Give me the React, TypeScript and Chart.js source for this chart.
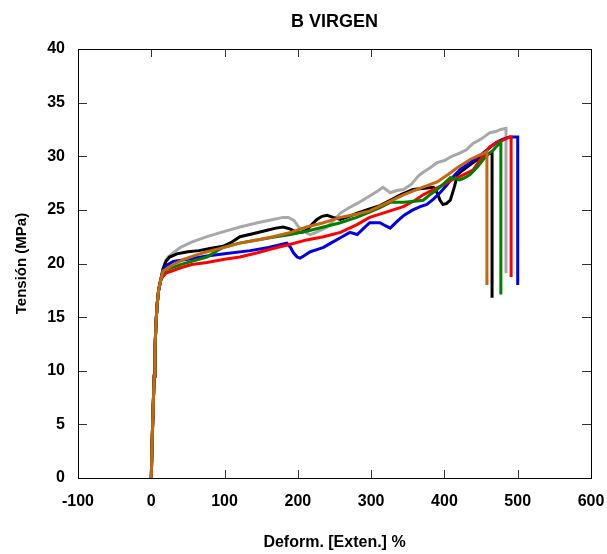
import React, { useEffect, useRef } from "react";
import { Chart, registerables } from "chart.js";

Chart.register(...registerables);

const chartTitle = "B VIRGEN";
const xAxisTitle = "Deform. [Exten.] %";
const yAxisTitle = "Tensión (MPa)";

const xTicks = [-100, 0, 100, 200, 300, 400, 500, 600];
const yTicks = [0, 5, 10, 15, 20, 25, 30, 35, 40];

// shared elastic start (all specimens overlap here)
const elasticStart: [number, number][] = [
  [0, 0], [1, 3], [2.5, 6.5], [4, 9.5], [5, 12], [6.5, 14.5], [8, 16.2], [10, 17.5], [13, 18.5],
];

const blackCurve: [number, number][] = [
  [16, 19.5], [20, 20.2], [25, 20.6], [35, 20.9], [50, 21.1], [65, 21.2], [80, 21.4], [98, 21.6],
  [110, 22.0], [121, 22.5], [140, 22.8], [158, 23.1], [170, 23.3], [180, 23.4], [190, 23.2],
  [198, 22.9], [205, 22.9], [212, 23.1], [220, 23.7], [226, 24.1], [233, 24.4], [240, 24.5],
  [248, 24.3], [258, 24.1], [270, 24.4], [281, 24.7], [298, 25.1], [312, 25.4], [326, 25.9],
  [340, 26.4], [357, 26.9], [370, 27.0], [385, 27.1], [390, 26.6], [394, 25.9], [398, 25.5],
  [403, 25.6], [408, 25.9], [413, 27.0], [418, 28.3], [425, 28.7], [435, 29.2], [449, 29.9],
  [458, 30.2], [465, 30.3], [465, 16.8],
];

const grayCurve: [number, number][] = [
  [16, 19.5], [20, 20.3], [23, 20.6], [30, 21.0], [40, 21.5], [55, 22.0], [76, 22.5], [100, 23.0],
  [121, 23.4], [145, 23.8], [166, 24.1], [180, 24.3], [187, 24.3], [195, 24.0], [201, 23.4],
  [207, 23.1], [213, 22.8], [217, 22.7], [225, 22.9], [240, 23.4], [250, 24.1], [258, 24.7],
  [270, 25.2], [281, 25.6], [298, 26.3], [310, 26.8], [316, 27.1], [322, 26.8], [326, 26.6],
  [335, 26.8], [344, 26.9], [355, 27.4], [365, 28.2], [371, 28.5], [380, 28.9], [390, 29.4],
  [400, 29.6], [410, 30.0], [421, 30.3], [430, 30.6], [439, 31.2], [450, 31.6], [462, 32.2],
  [470, 32.3], [477, 32.5], [484, 32.6], [484, 19.1],
];

const blueCurve: [number, number][] = [
  [16, 19.3], [20, 19.8], [30, 20.2], [50, 20.4], [76, 20.7], [100, 20.9], [135, 21.2], [160, 21.5],
  [185, 21.9], [190, 21.5], [194, 21.0], [199, 20.6], [203, 20.5], [208, 20.7], [217, 21.1],
  [226, 21.3], [235, 21.5], [245, 21.9], [258, 22.4], [271, 22.9], [281, 22.7], [290, 23.3],
  [298, 23.8], [312, 23.8], [320, 23.5], [326, 23.3], [335, 23.9], [345, 24.5], [357, 25.0],
  [367, 25.3], [376, 25.5], [385, 26.0], [394, 26.6], [403, 27.3], [412, 28.1], [422, 28.8],
  [435, 29.4], [445, 29.9], [453, 30.3], [462, 30.8], [471, 31.3], [480, 31.6], [489, 31.8],
  [500, 31.8], [500, 18.0],
];

const redCurve: [number, number][] = [
  [16, 18.8], [20, 19.1], [28, 19.3], [40, 19.6], [55, 19.9], [76, 20.1], [100, 20.4], [121, 20.6],
  [145, 21.0], [166, 21.4], [190, 21.8], [212, 22.2], [235, 22.5], [258, 22.9], [280, 23.6],
  [298, 24.3], [312, 24.6], [330, 25.0], [344, 25.3], [360, 25.9], [371, 26.4], [385, 26.9],
  [398, 27.3], [410, 27.8], [421, 28.1], [430, 28.4], [439, 28.7], [450, 29.8], [462, 30.9],
  [472, 31.3], [480, 31.5], [489, 31.8], [491, 31.8], [491, 18.75],
];

const greenCurve: [number, number][] = [
  [16, 19.1], [20, 19.4], [28, 19.6], [40, 19.9], [55, 20.2], [76, 20.6], [90, 21.2], [98, 21.5],
  [120, 21.9], [144, 22.2], [170, 22.5], [190, 22.7], [212, 23.0], [235, 23.4], [258, 23.8],
  [280, 24.3], [298, 24.8], [312, 25.2], [326, 25.7], [344, 25.7], [360, 25.8], [371, 25.9],
  [380, 26.4], [390, 26.9], [400, 27.5], [408, 28.0], [415, 27.9], [421, 27.8], [428, 28.0],
  [435, 28.3], [445, 29.0], [453, 29.7], [460, 30.2], [467, 30.6], [472, 31.0], [477, 31.3],
  [477, 17.1],
];

const orangeCurve: [number, number][] = [
  [16, 19.3], [21, 19.5], [30, 19.9], [45, 20.4], [62, 20.8], [76, 21.1], [100, 21.5], [121, 21.9],
  [145, 22.2], [166, 22.5], [190, 22.9], [212, 23.4], [235, 23.8], [258, 24.3], [280, 24.6],
  [298, 24.9], [320, 25.6], [344, 26.4], [370, 27.1], [390, 27.6], [405, 28.3], [417, 28.9],
  [435, 29.7], [448, 30.1], [458, 30.4], [458, 18.0],
];

// drawn first = on top
const seriesNames = ["Orange", "Green", "Red", "Blue", "Black", "Gray"];
const seriesColors = ["#C8650F", "#008000", "#FF0000", "#0000E6", "#000000", "#A8A8A8"];
const seriesCurves = [orangeCurve, greenCurve, redCurve, blueCurve, blackCurve, grayCurve];

const FONT = "Arial, 'Liberation Sans', Helvetica, sans-serif";

const framePlugin = {
  id: "frameTicks",
  beforeDatasetsDraw(chart: any) {
    const { ctx, chartArea, scales } = chart;
    const { left, right, top, bottom } = chartArea;
    const xs = scales.x;
    const ys = scales.y;
    ctx.save();
    ctx.strokeStyle = "#333333";
    ctx.lineWidth = 1;
    ctx.beginPath();
    for (const v of xTicks) {
      const px = Math.round(xs.getPixelForValue(v)) + 0.5;
      ctx.moveTo(px, bottom);
      ctx.lineTo(px, bottom - 8);
      ctx.moveTo(px, top);
      ctx.lineTo(px, top + 8);
    }
    for (const v of yTicks) {
      const py = Math.round(ys.getPixelForValue(v)) + 0.5;
      ctx.moveTo(left, py);
      ctx.lineTo(left + 9, py);
      ctx.moveTo(right, py);
      ctx.lineTo(right - 9, py);
    }
    ctx.stroke();
    ctx.strokeStyle = "#000000";
    ctx.strokeRect(Math.round(left) + 0.5, Math.round(top) + 0.5, Math.round(right - left), Math.round(bottom - top));
    ctx.restore();
  },
};

export default function App() {
  const ref = useRef<HTMLCanvasElement | null>(null);

  useEffect(() => {
    if (!ref.current) return;
    const chart = new Chart(ref.current, {
      type: "line",
      data: {
        datasets: seriesCurves.map((curve, i) => ({
          label: seriesNames[i],
          data: [...elasticStart, ...curve].map(([x, y]) => ({ x, y })),
          borderColor: seriesColors[i],
          backgroundColor: seriesColors[i],
          borderWidth: 3,
          pointRadius: 0,
          tension: 0,
          fill: false,
        })),
      },
      options: {
        responsive: false,
        animation: false,
        layout: { padding: { left: 0, right: 16, top: 0, bottom: 0 } },
        plugins: {
          legend: { display: false },
          tooltip: { enabled: false },
          title: {
            display: true,
            text: chartTitle,
            fullSize: false,
            color: "#000",
            font: { family: FONT, size: 18, weight: "bold" },
            padding: { top: 11, bottom: 16.4 },
          },
        },
        scales: {
          x: {
            type: "linear",
            min: -100,
            max: 600,
            afterFit: (s: any) => {
              s.height = 76;
              s.paddingLeft = 0;
              s.paddingRight = 0;
            },
            grid: { display: false, drawTicks: false },
            border: { display: false },
            ticks: {
              stepSize: 100,
              padding: 14,
              color: "#000",
              font: { family: FONT, size: 16, weight: "bold" },
            },
            title: {
              display: true,
              text: xAxisTitle,
              color: "#000",
              font: { family: FONT, size: 16, weight: "bold" },
              padding: { top: 0, bottom: 1.5 },
            },
          },
          y: {
            type: "linear",
            min: 0,
            max: 40,
            afterFit: (s: any) => {
              s.width = 78;
              s.paddingTop = 0;
              s.paddingBottom = 0;
            },
            grid: { display: false, drawTicks: false },
            border: { display: false },
            ticks: {
              stepSize: 5,
              padding: 13,
              color: "#000",
              font: { family: FONT, size: 16, weight: "bold" },
            },
            title: {
              display: true,
              text: yAxisTitle,
              color: "#000",
              font: { family: FONT, size: 15, weight: "bold" },
              padding: { top: 13, bottom: 0 },
            },
          },
        },
      },
      plugins: [framePlugin],
    });
    return () => chart.destroy();
  }, []);

  return (
    <div style={{ position: "absolute", left: 0, top: 0, width: 607, height: 554, background: "#fff" }}>
      <canvas ref={ref} width={607} height={554} style={{ display: "block" }} />
    </div>
  );
}
